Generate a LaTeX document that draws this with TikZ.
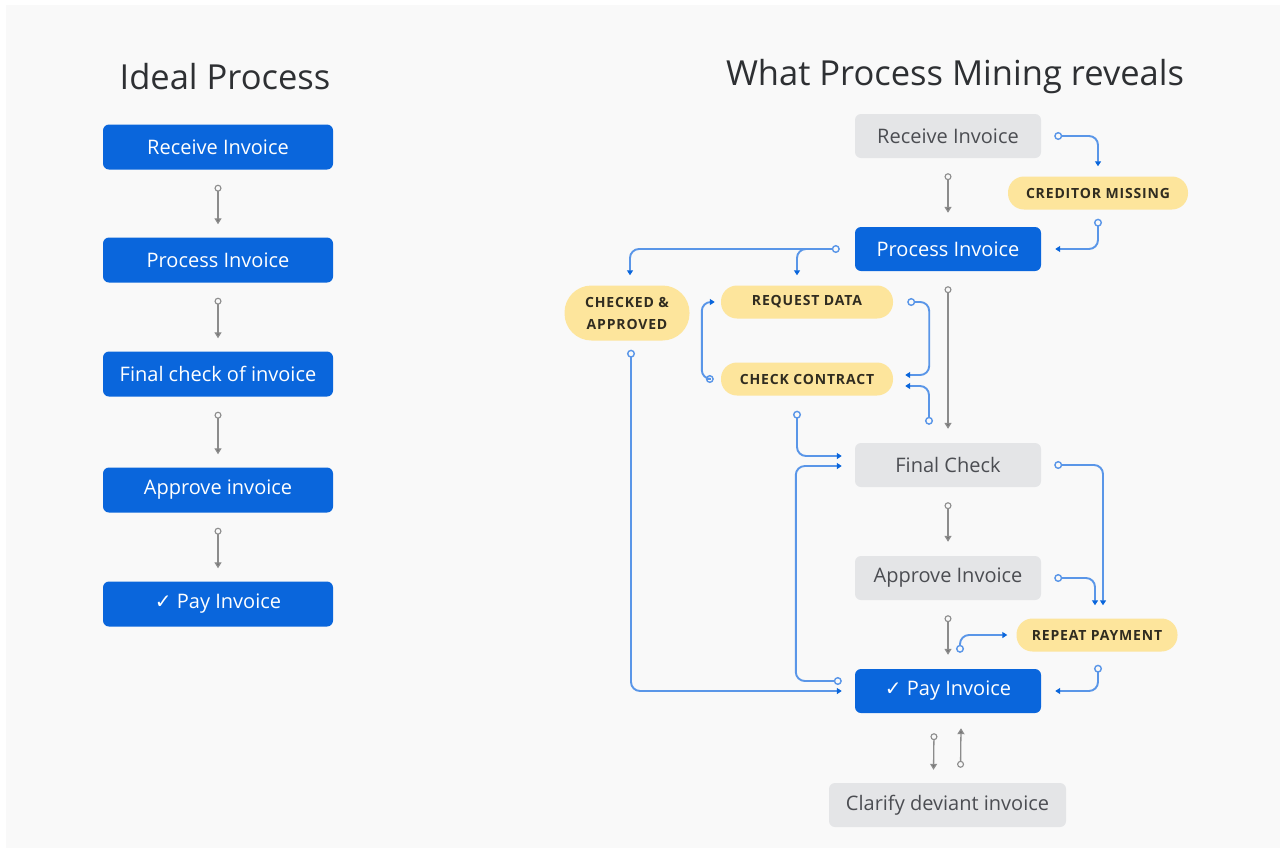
\documentclass[tikz,border=0pt]{standalone}
\usepackage{fontspec}
\setmainfont{Open Sans}
\newfontfamily\badgefont[LetterSpace=6.0]{Open Sans}
\newfontfamily\symfont{DejaVu Sans}
\usepackage{tikz}
\usepackage{xcolor}
\usetikzlibrary{arrows.meta, calc}
\definecolor{pagecol}{HTML}{F9F9F9}
\definecolor{stepblue}{HTML}{0A66DC}
\definecolor{stepgray}{HTML}{E4E5E7}
\definecolor{graytext}{HTML}{4B4D52}
\definecolor{titlecol}{HTML}{2E3033}
\definecolor{badgecol}{HTML}{FDE59C}
\definecolor{badgetext}{HTML}{302C20}
\definecolor{flowgray}{HTML}{8C8C8C}
\definecolor{linkblue}{HTML}{5A96E8}
\colorlet{tipblue}{stepblue}

\begin{document}
\begin{tikzpicture}[x=1pt, y=-1pt,
		title/.style={text=titlecol, font=\fontsize{34.5}{38}\selectfont},
		ideal/.style={fill=stepblue, text=white, rounded corners=6pt, minimum width=230pt, minimum height=45pt, font=\fontsize{20}{22}\selectfont},
		bluebox/.style={fill=stepblue, text=white, rounded corners=6pt, minimum width=186pt, minimum height=44pt, font=\fontsize{20}{22}\selectfont},
		graybox/.style={fill=stepgray, text=graytext, rounded corners=6pt, minimum width=186pt, minimum height=44pt, font=\fontsize{20}{22}\selectfont},
		badge/.style={fill=badgecol, text=badgetext, rounded corners=16pt, minimum height=33pt, align=center, font=\badgefont\bfseries\fontsize{14}{22}\selectfont},
		flow/.style={draw=flowgray, line width=1.3pt, {Circle[open, length=7pt, width=7pt, line width=1.1pt]}-{Triangle[length=6pt, width=7pt, fill=flowgray!80!black]}},
		link/.style={draw=linkblue, line width=1.9pt, rounded corners=9pt, {Circle[open, length=8pt, width=8pt, line width=1.4pt]}-{Triangle[length=5pt, width=6pt, color=tipblue]}},
		branch/.style={draw=linkblue, line width=1.9pt, rounded corners=9pt, -{Triangle[length=5pt, width=6pt, color=tipblue]}}]
		% page
		\fill[white] (0, 0) rectangle (1285, 852);
		\fill[pagecol] (6, 5) rectangle (1280, 848);

		% ideal process
		\node[title] (ititle) at (225, 77) {Ideal Process};
		\node[ideal] (irecv) at (218, 147) {Receive Invoice};
		\node[ideal] (iproc) at (218, 260) {Process Invoice};
		\node[ideal] (icheck) at (218, 374) {Final check of invoice};
		\node[ideal] (iappr) at (218, 490) {Approve invoice};
		\node[ideal] (ipay) at (218, 604) {{\symfont ✓} Pay Invoice};
		\foreach \a/\b in {irecv/iproc, iproc/icheck, icheck/iappr, iappr/ipay}
			\draw[flow] ($(\a.south)+(0, 15)$) -- ($(\b.north)+(0, -13)$);

		% what process mining reveals
		\node[title] (mtitle) at (955, 77) {What Process Mining reveals};
		\node[graybox] (recv) at (948, 136) {Receive Invoice};
		\node[bluebox] (proc) at (948, 249) {Process Invoice};
		\node[graybox] (fcheck) at (948, 465) {Final Check};
		\node[graybox] (appr) at (948, 578) {Approve Invoice};
		\node[bluebox] (pay) at (948, 691) {{\symfont ✓} Pay Invoice};
		\node[graybox, minimum width=237pt] (clarify) at (947.5, 805) {Clarify deviant invoice};

		\node[badge, minimum width=180pt] (credit) at (1098, 193) {CREDITOR MISSING};
		\node[badge, minimum width=125pt, minimum height=55pt, rounded corners=27pt] (chkappr) at (627, 313) {CHECKED \&\\APPROVED};
		\node[badge, minimum width=172pt] (reqdata) at (807, 302) {REQUEST DATA};
		\node[badge, minimum width=172pt] (chkcon) at (807, 379) {CHECK CONTRACT};
		\node[badge, minimum width=161pt] (repeat) at (1097, 635) {REPEAT PAYMENT};

		% main flow
		\foreach \a/\b in {recv/proc, proc/fcheck, fcheck/appr, appr/pay}
			\draw[flow] ($(\a.south)+(0, 15)$) -- ($(\b.north)+(0, -14)$);
		\draw[flow] ($(pay.south)+(-14, 20)$) -- ($(clarify.north)+(-14, -13)$);
		\draw[flow] ($(clarify.north)+(13, -15)$) -- ($(pay.south)+(13, 15)$);

		% deviations
		\coordinate (split) at ($(proc.west)+(-40, 0)$);
		\draw[link] ($(recv.east)+(13, 0)$) -| ($(credit.north)+(0, -10)$);
		\draw[link] ($(credit.south)+(0, 9)$) |- ($(proc.east)+(14, 0)$);
		\draw[link] ($(proc.west)+(-15, 0)$) -| ($(chkappr.north)+(3, -10)$);
		\draw[branch] (split) -| ($(reqdata.north)+(-10, -10)$);
		\draw[link] ($(chkcon.west)+(-7, 0)$) -- ++(-12, 0) |- ($(reqdata.west)+(-6, 0)$);
		\draw[link] ($(reqdata.east)+(14, 0)$) -- ++(22, 0) |- ($(chkcon.east)+(12, -4)$);
		\draw[link] ($(fcheck.north)+(-19, -18)$) |- ($(chkcon.east)+(12, 7)$);
		\draw[link] ($(chkcon.south)+(-10, 15)$) |- ($(fcheck.west)+(-13, -9)$);
		\draw[link] ($(pay.west)+(-13, -10)$) -- ++(-46, 0) |- ($(fcheck.west)+(-13, 1)$);
		\draw[link] ($(chkappr.south)+(4, 9)$) |- ($(pay.west)+(-13, 0)$);
		\draw[link] ($(fcheck.east)+(13, 0)$) -| ($(repeat.north)+(6, -13)$);
		\draw[link] ($(appr.east)+(13, 0)$) -| ($(repeat.north)+(-2, -13)$);
		\draw[link] ($(pay.north)+(12, -16)$) |- ($(repeat.west)+(-9, 0)$);
		\draw[link] ($(repeat.south)+(1, 13)$) |- ($(pay.east)+(14, 0)$);
	\end{tikzpicture}
\end{document}
